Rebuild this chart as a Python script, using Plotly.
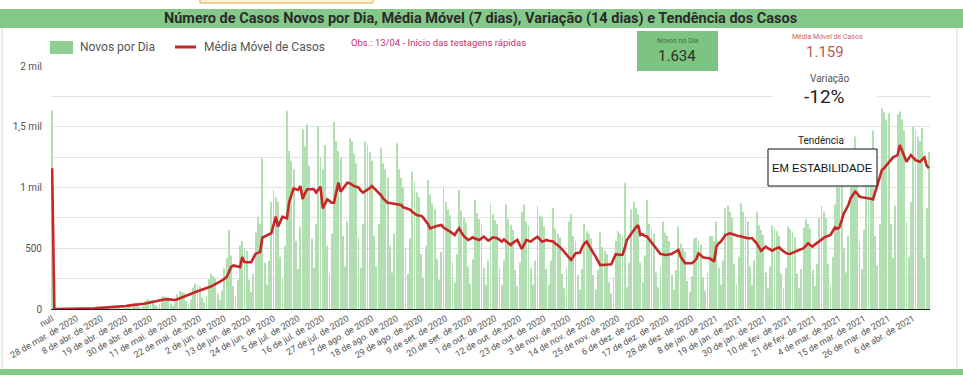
import plotly.graph_objects as go
from datetime import date, timedelta

# ---------------- data ----------------
START_DATE = date(2020, 3, 18)
N_DAYS = 392
MONTHS = ["jan.", "fev.", "mar.", "abr.", "mai.", "jun.", "jul.", "ago.", "set.", "out.", "nov.", "dez."]

NEW_CASES = [1634,
    0, 0, 0, 1, 0, 1, 3,
    2, 3, 3, 1, 1, 2, 4,
    7, 8, 7, 3, 2, 4, 10,
    16, 15, 14, 7, 4, 9, 20,
    30, 28, 27, 13, 8, 17, 40,
    50, 47, 45, 22, 13, 27, 65,
    80, 75, 70, 35, 20, 44, 100,
    104, 98, 92, 46, 26, 55, 122,
    150, 140, 132, 66, 38, 78, 175,
    210, 195, 188, 93, 54, 110, 245,
    290, 270, 255, 125, 72, 150, 335,
    420, 650, 440, 190, 110, 240, 520,
    560, 500, 480, 240, 140, 290, 630,
    760, 700, 1240, 380, 200, 400, 880,
    980, 920, 880, 430, 250, 520, 1632,
    1300, 1220, 1150, 560, 330, 680, 1480,
    1340, 1523, 1180, 580, 340, 700, 1500,
    1250, 1150, 1350, 520, 300, 620, 1542,
    1380, 1300, 1250, 600, 350, 720, 1405,
    1380, 1280, 1200, 590, 340, 700, 1378,
    1350, 1290, 1220, 600, 350, 700, 1323,
    1200, 1150, 1080, 520, 300, 620, 1364,
    1150, 1080, 1000, 500, 290, 580, 1131,
    1050, 960, 920, 450, 260, 520, 1062,
    940, 870, 820, 410, 240, 470, 1007,
    880, 820, 770, 380, 220, 450, 980,
    810, 750, 710, 350, 210, 410, 900,
    790, 740, 700, 340, 200, 400, 870,
    780, 730, 700, 340, 200, 400, 860,
    740, 690, 650, 320, 190, 380, 800,
    860, 720, 690, 340, 200, 400, 850,
    770, 760, 680, 330, 200, 400, 830,
    660, 620, 590, 290, 170, 340, 720,
    780, 600, 560, 280, 160, 330, 700,
    640, 620, 580, 280, 160, 320, 630,
    510, 480, 450, 220, 130, 260, 560,
    640, 620, 600, 1040, 180, 380, 820,
    880, 830, 780, 380, 220, 440, 900,
    700, 660, 620, 300, 180, 350, 720,
    630, 600, 560, 280, 160, 320, 680,
    540, 500, 470, 230, 140, 270, 580,
    590, 560, 530, 260, 150, 300, 600,
    600, 560, 720, 340, 200, 400, 830,
    850, 800, 750, 370, 210, 430, 870,
    800, 760, 720, 350, 200, 400, 800,
    690, 650, 610, 300, 170, 350, 690,
    670, 640, 600, 290, 170, 340, 680,
    660, 630, 590, 290, 170, 330, 670,
    740, 700, 660, 320, 190, 370, 750,
    850, 800, 750, 370, 210, 430, 860,
    1030, 1000, 1040, 500, 300, 600, 1050,
    1290, 1420, 1100, 560, 330, 650, 1200,
    1250, 1200, 1470, 600, 360, 700, 1650,
    1620, 1560, 1611, 700, 420, 850, 1600,
    1625, 1560, 1470, 720, 430, 880, 1500,
    1480, 1420, 1380, 1490, 420, 830, 1290,
]

MOVING_AVG = [1159,
    0, 0, 0, 0, 1, 1, 1,
    1, 2, 2, 2, 3, 3, 3,
    4, 4, 5, 5, 6, 7, 8,
    9, 10, 11, 12, 13, 14, 16,
    17, 19, 21, 23, 25, 28, 31,
    33, 35, 37, 39, 41, 43, 46,
    50, 54, 58, 62, 66, 70, 74,
    78, 80, 79, 77, 75, 74, 80,
    88, 96, 104, 112, 118, 124, 134,
    140, 146, 152, 158, 164, 168, 176,
    185, 194, 203, 212, 222, 235, 248,
    263, 300, 345, 358, 352, 348, 345,
    427, 386, 385, 384, 386, 420, 455,
    462, 469, 587, 598, 606, 615, 623,
    700, 760, 678, 720, 760, 752, 746,
    883, 940, 993, 985, 980, 1012, 905,
    950, 985, 985, 985, 985, 958, 980,
    1007, 828, 860, 902, 890, 875, 875,
    960, 1040, 966, 990, 1015, 1040, 1035,
    1020, 1012, 1005, 1001, 975, 958, 970,
    980, 995, 1012, 995, 980, 960, 938,
    910, 890, 875, 872, 870, 868, 865,
    860, 856, 837, 830, 823, 818, 800,
    785, 774, 770, 768, 750, 727, 700,
    664, 672, 678, 683, 687, 691, 670,
    656, 648, 637, 625, 609, 640, 664,
    630, 601, 585, 568, 578, 590, 580,
    575, 568, 582, 595, 580, 563, 575,
    590, 586, 582, 570, 555, 573, 560,
    540, 527, 545, 560, 568, 530, 494,
    530, 568, 562, 555, 570, 585, 595,
    575, 555, 560, 568, 562, 558, 555,
    540, 527, 510, 491, 468, 445, 425,
    404, 430, 458, 462, 464, 510, 540,
    555, 520, 486, 460, 431, 395, 363,
    362, 363, 363, 366, 369, 410, 451,
    448, 446, 445, 500, 568, 595, 623,
    650, 672, 691, 609, 615, 600, 595,
    570, 548, 527, 505, 480, 453, 450,
    445, 447, 450, 453, 465, 476, 486,
    431, 400, 376, 376, 376, 376, 390,
    409, 458, 440, 426, 422, 420, 417,
    405, 390, 513, 540, 555, 580, 609,
    615, 623, 618, 609, 605, 600, 595,
    590, 585, 582, 582, 582, 560, 540,
    510, 480, 495, 513, 500, 490, 480,
    492, 500, 508, 490, 472, 462, 455,
    453, 462, 472, 480, 486, 493, 500,
    520, 540, 525, 513, 530, 545, 555,
    570, 585, 595, 602, 609, 640, 672,
    660, 672, 730, 787, 820, 856, 910,
    940, 966, 950, 925, 920, 918, 917,
    912, 908, 903, 960, 1034, 1090, 1144,
    1160, 1180, 1199, 1225, 1248, 1258, 1267,
    1349, 1300, 1250, 1212, 1240, 1267, 1245,
    1226, 1218, 1212, 1230, 1248, 1180, 1159,
]

X_TICK_LABELS = ["null", "28 de mar. de 2020", "8 de abr. de 2020", "19 de abr. de 2020", "30 de abr. de 2020",
    "11 de mai. de 2020", "22 de mai. de 2020", "2 de jun. de 2020", "13 de jun. de 2020", "24 de jun. de 2020",
    "5 de jul. de 2020", "16 de jul. de 2020", "27 de jul. de 2020", "7 de ago. de 2020", "18 de ago. de 2020",
    "29 de ago. de 2020", "9 de set. de 2020", "20 de set. de 2020", "1 de out. de 2020", "12 de out. de 2020",
    "23 de out. de 2020", "3 de nov. de 2020", "14 de nov. de 2020", "25 de nov. de 2020", "6 de dez. de 2020",
    "17 de dez. de 2020", "28 de dez. de 2020", "8 de jan. de 2021", "19 de jan. de 2021", "30 de jan. de 2021",
    "10 de fev. de 2021", "21 de fev. de 2021", "4 de mar. de 2021", "15 de mar. de 2021", "26 de mar. de 2021",
    "6 de abr. de 2021"]

Y_TICK_VALUES = [0, 250, 500, 750, 1000, 1250, 1500, 1750, 2000]
Y_TICK_TEXT = ["0", "", "500", "", "1 mil", "", "1,5 mil", "", "2 mil"]

TITLE = "Número de Casos Novos por Dia, Média Móvel (7 dias), Variação (14 dias) e Tendência dos Casos"
OBS_TEXT = "Obs.: 13/04 - Início das testagens rápidas"
KPI_NEW_LABEL, KPI_NEW_VALUE = "Novos no Dia", "1.634"
KPI_MA_LABEL, KPI_MA_VALUE = "Média Móvel de Casos", "1.159"
KPI_VAR_LABEL, KPI_VAR_VALUE = "Variação", "-12%"
KPI_TREND_LABEL, KPI_TREND_VALUE = "Tendência", "EM ESTABILIDADE"

# categories
CATEGORIES = ["null"] + [
    f"{d.day} de {MONTHS[d.month - 1]} de {d.year}"
    for d in (START_DATE + timedelta(days=k) for k in range(N_DAYS))
]

# ---------------- layout helpers ----------------
W, H = 963, 375
L, R, T, B = 51, 33, 66, 66
PW, PH = W - L - R, H - T - B


def px(x):
    return (x - L) / PW


def py(y):
    return (H - B - y) / PH


FONT = "Roboto"
GREEN_BAND = "#84c98a"
BAR_GREEN = "#b2dfb2"
RED = "#c62828"

fig = go.Figure()
fig.add_trace(go.Bar(x=CATEGORIES, y=NEW_CASES, name="Novos por Dia",
                     marker=dict(color=BAR_GREEN, line=dict(width=0))))
fig.add_trace(go.Scatter(x=CATEGORIES, y=MOVING_AVG, name="Média Móvel de Casos", mode="lines",
                         line=dict(color=RED, width=2.6)))

shapes = []
annotations = []

# top & bottom green bands
shapes.append(dict(type="rect", xref="paper", yref="paper", x0=px(-5), x1=px(W + 5), y0=py(28), y1=py(9),
                   fillcolor=GREEN_BAND, line=dict(width=0), layer="above"))
shapes.append(dict(type="rect", xref="paper", yref="paper", x0=px(-5), x1=px(W + 5), y0=py(H + 5), y1=py(369),
                   fillcolor=GREEN_BAND, line=dict(width=0), layer="above"))
# small top element
shapes.append(dict(type="rect", xref="paper", yref="paper", x0=px(200), x1=px(373), y0=py(3), y1=py(-3),
                   fillcolor="#fff6d6", line=dict(color="#e8a33a", width=1), layer="above"))
# panel borders
for xb in (2, 957):
    shapes.append(dict(type="line", xref="paper", yref="paper", x0=px(xb), x1=px(xb), y0=py(369), y1=py(28),
                       line=dict(color="#d6d6d6", width=1), layer="above"))

annotations.append(dict(text=f"<b>{TITLE}</b>", xref="paper", yref="paper", x=px(480), y=py(18.5),
                        showarrow=False, font=dict(family=FONT, size=14.5, color="#2b2b2b"),
                        xanchor="center", yanchor="middle"))

# legend
shapes.append(dict(type="rect", xref="paper", yref="paper", x0=px(50), x1=px(73), y0=py(54), y1=py(41),
                   fillcolor="#8fcc92", line=dict(width=0), layer="above"))
annotations.append(dict(text="Novos por Dia", xref="paper", yref="paper", x=px(78), y=py(47.5), showarrow=False,
                        font=dict(family=FONT, size=12, color="#555"), xanchor="left", yanchor="middle"))
shapes.append(dict(type="line", xref="paper", yref="paper", x0=px(175), x1=px(196), y0=py(47), y1=py(47),
                   line=dict(color=RED, width=3), layer="above"))
annotations.append(dict(text="Média Móvel de Casos", xref="paper", yref="paper", x=px(202), y=py(47.5),
                        showarrow=False, font=dict(family=FONT, size=12, color="#555"),
                        xanchor="left", yanchor="middle"))

# obs text
annotations.append(dict(text=OBS_TEXT, xref="paper", yref="paper", x=px(349), y=py(42), showarrow=False,
                        font=dict(family=FONT, size=9.5, color="#c2306a"), xanchor="left", yanchor="middle"))

# KPI: new cases box
shapes.append(dict(type="rect", xref="paper", yref="paper", x0=px(637), x1=px(718), y0=py(71), y1=py(31),
                   fillcolor="#7cc47f", line=dict(width=0), layer="above"))
annotations.append(dict(text=KPI_NEW_LABEL, xref="paper", yref="paper", x=px(678), y=py(41), showarrow=False,
                        font=dict(family=FONT, size=7, color="#4a6b4c"), xanchor="center", yanchor="middle"))
annotations.append(dict(text=KPI_NEW_VALUE, xref="paper", yref="paper", x=px(677), y=py(56), showarrow=False,
                        font=dict(family=FONT, size=15, color="#2e2e2e"), xanchor="center", yanchor="middle"))

# white block behind MA / variation KPIs
shapes.append(dict(type="rect", xref="paper", yref="paper", x0=px(773), x1=px(877), y0=py(112), y1=py(29),
                   fillcolor="white", line=dict(width=0), layer="above"))
annotations.append(dict(text=KPI_MA_LABEL, xref="paper", yref="paper", x=px(827), y=py(37.5), showarrow=False,
                        font=dict(family=FONT, size=7, color="#d2605e"), xanchor="center", yanchor="middle"))
annotations.append(dict(text=KPI_MA_VALUE, xref="paper", yref="paper", x=px(825), y=py(51.5), showarrow=False,
                        font=dict(family=FONT, size=15, color="#b85a58"), xanchor="center", yanchor="middle"))
annotations.append(dict(text=KPI_VAR_LABEL, xref="paper", yref="paper", x=px(830), y=py(78), showarrow=False,
                        font=dict(family=FONT, size=10, color="#555"), xanchor="center", yanchor="middle"))
annotations.append(dict(text=KPI_VAR_VALUE, xref="paper", yref="paper", x=px(824), y=py(96), showarrow=False,
                        font=dict(family=FONT, size=19, color="#222"), xanchor="center", yanchor="middle"))

# trend
annotations.append(dict(text=KPI_TREND_LABEL, xref="paper", yref="paper", x=px(821), y=py(140), showarrow=False,
                        font=dict(family=FONT, size=10, color="#222"), xanchor="center", yanchor="middle"))
shapes.append(dict(type="rect", xref="paper", yref="paper", x0=px(768), x1=px(877), y0=py(186), y1=py(149),
                   fillcolor="white", line=dict(color="#111", width=1), layer="above"))
annotations.append(dict(text=KPI_TREND_VALUE, xref="paper", yref="paper", x=px(822.5), y=py(167.5),
                        showarrow=False, font=dict(family="Liberation Sans", size=11.3, color="#111"),
                        xanchor="center", yanchor="middle"))

fig.update_layout(
    width=W, height=H,
    margin=dict(l=L, r=R, t=T, b=B, pad=0),
    paper_bgcolor="white", plot_bgcolor="white",
    showlegend=False,
    bargap=0.6,
    shapes=shapes, annotations=annotations,
    font=dict(family=FONT, size=9, color="#555"),
)
fig.update_xaxes(type="category", tickmode="array", tickvals=X_TICK_LABELS, ticktext=X_TICK_LABELS,
                 tickangle=-30, tickfont=dict(family=FONT, size=9, color="#555"),
                 showline=True, linecolor="#222", linewidth=1, showgrid=False, ticks="",
                 automargin=False, range=[-0.5, N_DAYS + 0.5])
fig.update_yaxes(range=[0, 2000], tickmode="array", tickvals=Y_TICK_VALUES, ticktext=Y_TICK_TEXT,
                 gridcolor="#e2e2e2", gridwidth=1, zeroline=False, showline=False, ticks="",
                 tickfont=dict(family=FONT, size=10, color="#555"), automargin=False, ticklabelstandoff=8)

fig.write_html("out.html", config={"displayModeBar": False},
               post_script="document.body.style.margin='0';document.body.style.overflow='hidden';")
